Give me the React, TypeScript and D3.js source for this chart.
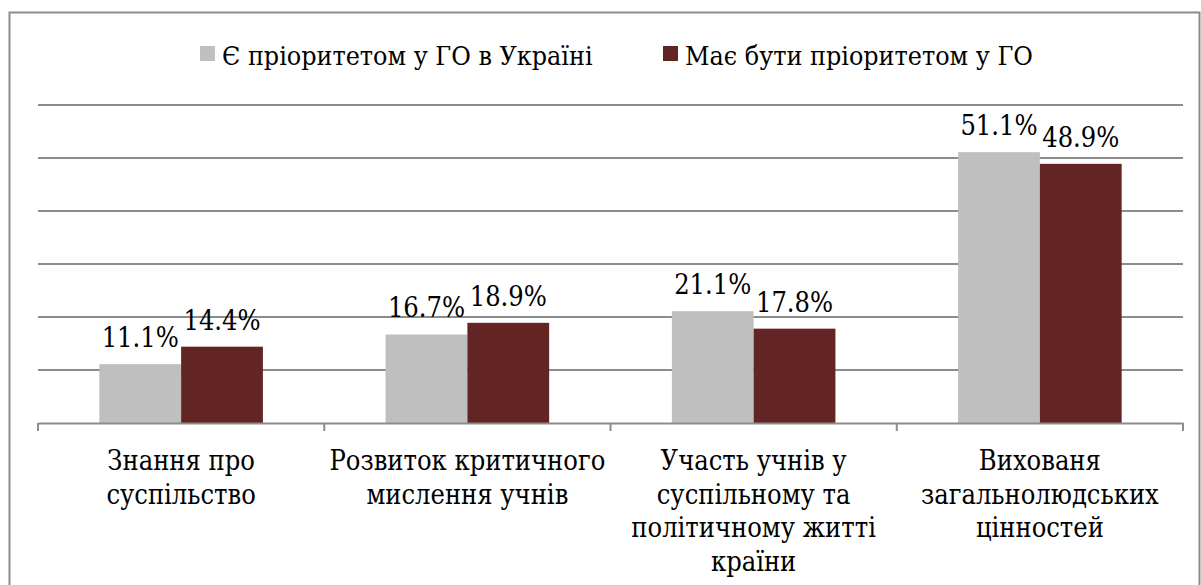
import { useRef, useEffect } from 'react';
import * as d3 from 'd3';

const categories = [
  ['Знання про', 'суспільство'],
  ['Розвиток критичного', 'мислення учнів'],
  ['Участь учнів у', 'суспільному та', 'політичному житті', 'країни'],
  ['Вихованя', 'загальнолюдських', 'цінностей'],
];
const seriesNames = ['Є пріоритетом у ГО в Україні', 'Має бути пріоритетом у ГО'];
const isPriority = [11.1, 16.7, 21.1, 51.1];
const shouldBe = [14.4, 18.9, 17.8, 48.9];
const gridTicks = [0, 10, 20, 30, 40, 50, 60];
const colors = ['#bfbfbf', '#632523'];

function App() {
  const svgRef = useRef<SVGSVGElement | null>(null);
  const width = 1201;
  const height = 585;

  useEffect(() => {
    const margin = { top: 105, right: 18, bottom: 162, left: 38 };
    const font = "'DejaVu Serif Condensed', 'DejaVu Serif', serif";
    const fs = '27px';
    const svg = d3
      .select(svgRef.current)
      .attr('viewBox', [0, 0, width, height])
      .style('font-family', font);
    svg.selectAll('*').remove();

    // outer frame
    svg
      .append('rect')
      .attr('x', 9.5)
      .attr('y', 12.5)
      .attr('width', 1190)
      .attr('height', 600)
      .attr('fill', '#fff')
      .attr('stroke', '#8c8c8c')
      .attr('stroke-width', 2);

    const keys = categories.map((c) => c.join(' '));
    const data = keys.map((k, i) => ({ key: k, values: [isPriority[i], shouldBe[i]] }));

    const x0 = d3
      .scaleBand()
      .domain(keys)
      .range([margin.left, width - margin.right])
      .paddingInner(0)
      .paddingOuter(0);

    const x1 = d3
      .scaleBand()
      .domain(['0', '1'])
      .range([0, x0.bandwidth()])
      .paddingInner(0)
      .paddingOuter(0.75);

    const y = d3
      .scaleLinear()
      .domain([0, 60])
      .range([height - margin.bottom, margin.top]);

    // gridlines
    svg
      .append('g')
      .selectAll('line')
      .data(gridTicks.slice(1))
      .join('line')
      .attr('x1', margin.left)
      .attr('x2', width - margin.right)
      .attr('y1', (d) => y(d))
      .attr('y2', (d) => y(d))
      .attr('stroke', '#8c8c8c')
      .attr('stroke-width', 2);

    // bars
    const groups = svg
      .append('g')
      .selectAll('g')
      .data(data)
      .join('g')
      .attr('transform', (d) => `translate(${x0(d.key)},0)`);

    groups
      .selectAll('rect')
      .data((d) => d.values)
      .join('rect')
      .attr('x', (_, i) => x1(String(i)))
      .attr('y', (d) => y(d))
      .attr('width', x1.bandwidth())
      .attr('height', (d) => y(0) - y(d))
      .attr('fill', (_, i) => colors[i]);

    groups
      .selectAll('text')
      .data((d) => d.values)
      .join('text')
      .attr('x', (_, i) => x1(String(i)) + x1.bandwidth() / 2)
      .attr('y', (d) => y(d) - 17)
      .attr('text-anchor', 'middle')
      .style('font-size', fs)
      .attr('fill', '#000')
      .text((d) => `${d.toFixed(1)}%`);

    // x axis
    const axis = svg
      .append('g')
      .attr('transform', `translate(0,${y(0)})`)
      .call(d3.axisBottom(x0).tickSize(0).tickFormat(() => ''));
    axis.select('.domain').attr('stroke', '#8c8c8c').attr('stroke-width', 2);

    const bounds = keys.map((k) => x0(k)).concat([width - margin.right]);
    axis
      .selectAll('.sep')
      .data(bounds)
      .join('line')
      .attr('class', 'sep')
      .attr('x1', (d) => d)
      .attr('x2', (d) => d)
      .attr('y1', 0)
      .attr('y2', 8)
      .attr('stroke', '#8c8c8c')
      .attr('stroke-width', 2);

    // category labels
    svg
      .append('g')
      .selectAll('text')
      .data(categories)
      .join('text')
      .attr('text-anchor', 'middle')
      .style('font-size', fs)
      .attr('fill', '#000')
      .each(function (lines, i) {
        const cx = x0(keys[i]) + x0.bandwidth() / 2;
        d3.select(this)
          .selectAll('tspan')
          .data(lines)
          .join('tspan')
          .attr('x', cx)
          .attr('y', (_, j) => 470 + j * 33.5)
          .text((t) => t);
      });

    // legend
    const legendX = [200, 663];
    const legend = svg
      .append('g')
      .selectAll('g')
      .data(seriesNames)
      .join('g')
      .attr('transform', (_, i) => `translate(${legendX[i]},0)`);
    legend
      .append('rect')
      .attr('x', 0)
      .attr('y', 46)
      .attr('width', 15)
      .attr('height', 15)
      .attr('fill', (_, i) => colors[i]);
    legend
      .append('text')
      .attr('x', 22)
      .attr('y', 65)
      .style('font-size', '26.6px')
      .attr('fill', '#000')
      .text((d) => d);
  }, []);

  return (
    <svg
      ref={svgRef}
      width={width}
      height={height}
      style={{ position: 'absolute', left: 0, top: 0 }}
    ></svg>
  );
}

export default App;
